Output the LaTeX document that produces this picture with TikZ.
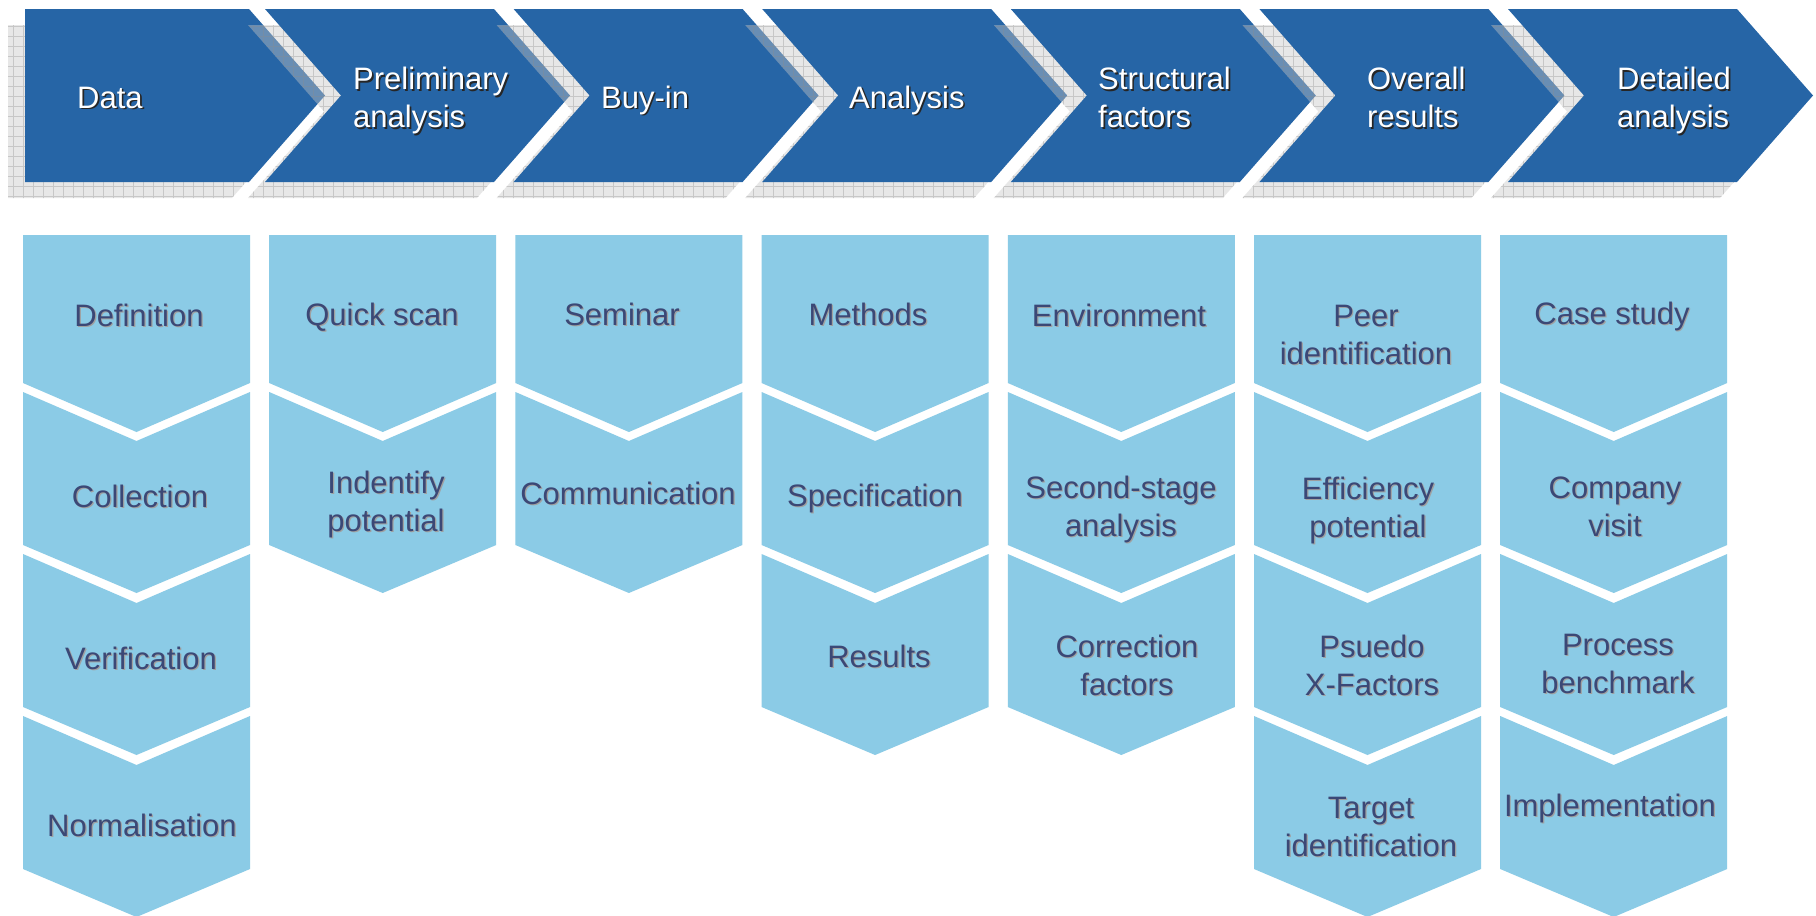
\documentclass[tikz,border=0pt]{standalone}
\usepackage{fontspec}
\setmainfont{Liberation Sans}
\definecolor{hblue}{RGB}{38,101,166}
\definecolor{lblue}{RGB}{139,203,230}
\definecolor{navy}{RGB}{59,72,118}
\definecolor{shgray}{RGB}{200,200,200}
\definecolor{gridgray}{RGB}{140,140,140}
\definecolor{tshadow}{RGB}{160,160,160}
\newcommand\chevpath[3]{(#1,9) -- (#2,9) -- (#2+76,95.5) -- (#2,182) -- (#1,182) -- (#1+#3,95.5) -- cycle}
\newcommand\shtext[4]{%
  \node[#1sh] at (#3) {#4};
  \node[#1] (#2) at (#3) {#4};}
\tikzset{
  lbl/.style={font=\fontsize{31}{38}\selectfont, inner sep=0pt,
    execute at begin node=\strut, execute at end node=\strut, yshift=-3.5pt},
  htext/.style={lbl, text=white, align=left, anchor=west},
  htextsh/.style={htext, text=black!85, xshift=1.6pt, yshift=-1.6pt},
  btext/.style={lbl, text=navy, align=center, anchor=center},
  btextsh/.style={btext, text=tshadow, xshift=1.2pt, yshift=-1.2pt},
  hshadowfill/.style={shgray, fill opacity=0.42},
  hshadowgrid/.style={gridgray, draw opacity=0.35, line width=0.8pt, step=10pt},
  hchev/.style={hblue},
  bseg/.style={lblue}
}
\begin{document}
\begin{tikzpicture}[x=1pt, y=-1pt]
\useasboundingbox (0,0) rectangle (1816,916);
\fill[white] (0,0) rectangle (1816,916);
% header chevrons with shadows
\foreach \k in {1,...,7}{
  \ifnum\k=1
    \def\xl{25}\def\xr{249}\def\nd{0}
  \else
    \pgfmathsetmacro\xl{265+(\k-2)*248.6}
    \pgfmathsetmacro\xr{\xl+229}
    \def\nd{76}
  \fi
  \begin{scope}[shift={(-17,16)}]
    \clip \chevpath{\xl}{\xr}{\nd};
    \fill[hshadowfill] (-30,0) rectangle (1850,230);
    \draw[hshadowgrid] (-30,0) grid (1850,230);
  \end{scope}
  \fill[hchev] \chevpath{\xl}{\xr}{\nd};
}
% body columns
\foreach \c/\n in {1/4,2/2,3/2,4/3,5/3,6/4,7/4}{
  \pgfmathsetmacro\L{23+(\c-1)*246.2}
  \pgfmathsetmacro\R{\L+227}
  \pgfmathsetmacro\C{\L+113.5}
  \fill[bseg] (\L,235) -- (\R,235) -- (\R,383) -- (\C,432) -- (\L,383) -- cycle;
  \foreach \r in {2,...,\n}{
    \pgfmathsetmacro\T{392+(\r-2)*162}
    \fill[bseg] (\L,\T) -- (\C,\T+49) -- (\R,\T) -- (\R,\T+153) -- (\C,\T+201) -- (\L,\T+153) -- cycle;
  }
}
% header labels
\shtext{htext}{h1}{77,97}{Data}
\shtext{htext}{h2}{353,99.5}{Preliminary\\analysis}
\shtext{htext}{h3}{601,97}{Buy-in}
\shtext{htext}{h4}{849,97}{Analysis}
\shtext{htext}{h5}{1098,99.5}{Structural\\factors}
\shtext{htext}{h6}{1367,99.5}{Overall\\results}
\shtext{htext}{h7}{1617,99.5}{Detailed\\analysis}
% column 1
\shtext{btext}{a1}{139,315}{Definition}
\shtext{btext}{a2}{140,496}{Collection}
\shtext{btext}{a3}{141,658}{Verification}
\shtext{btext}{a4}{142,825}{Normalisation}
% column 2
\shtext{btext}{b1}{382,314}{Quick scan}
\shtext{btext}{b2}{386,503}{Indentify\\potential}
% column 3
\shtext{btext}{c1}{622,314}{Seminar}
\shtext{btext}{c2}{628,493}{Communication}
% column 4
\shtext{btext}{d1}{868,314}{Methods}
\shtext{btext}{d2}{875,495}{Specification}
\shtext{btext}{d3}{879,656}{Results}
% column 5
\shtext{btext}{e1}{1119,315}{Environment}
\shtext{btext}{e2}{1121,508}{Second-stage\\analysis}
\shtext{btext}{e3}{1127,667}{Correction\\factors}
% column 6
\shtext{btext}{f1}{1366,337}{Peer\\identification}
\shtext{btext}{f2}{1368,509}{Efficiency\\potential}
\shtext{btext}{f3}{1372,667}{Psuedo\\X-Factors}
\shtext{btext}{f4}{1371,829}{Target\\identification}
% column 7
\shtext{btext}{g1}{1612,313}{Case study}
\shtext{btext}{g2}{1615,509}{Company\\visit}
\shtext{btext}{g3}{1618,666}{Process\\benchmark}
\shtext{btext}{g4}{1610,805}{Implementation}
\end{tikzpicture}
\end{document}
